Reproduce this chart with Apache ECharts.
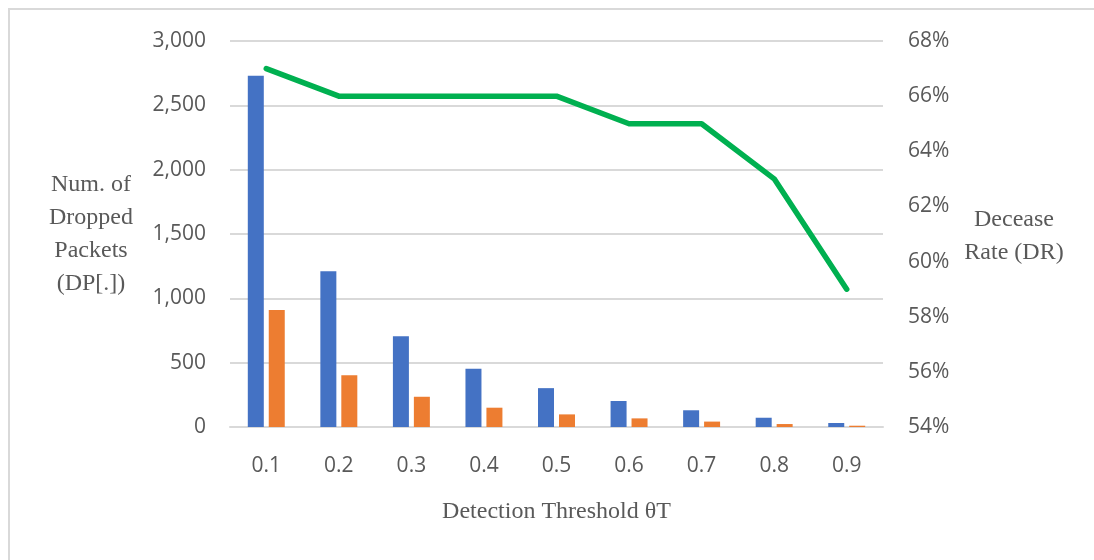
<!DOCTYPE html>
<html>
<head>
<meta charset="utf-8">
<script src="https://cdn.jsdelivr.net/npm/echarts@6/dist/echarts.min.js"></script>
<style>
  html, body { margin: 0; padding: 0; background: #fff; }
  #chart { width: 1094px; height: 560px; }
</style>
</head>
<body>
<div id="chart"></div>
<script>
// Detection threshold values along the x axis
const thresholds = ['0.1', '0.2', '0.3', '0.4', '0.5', '0.6', '0.7', '0.8', '0.9'];
// Dropped packets, two series (left axis)
const droppedA = [2730, 1210, 705, 452, 302, 202, 130, 72, 31];
const droppedB = [910, 403, 235, 150, 98, 67, 42, 23, 10];
// Decease rate in percent (right axis)
const deceaseRate = [67, 66, 66, 66, 66, 65, 65, 63, 59];

const leftTitle = ['Num. of', 'Dropped', 'Packets', '(DP[.])'];
const rightTitle = ['Decease', 'Rate (DR)'];
const xTitle = 'Detection Threshold \u03b8T';

const tickFont = { fontFamily: '"Open Sans", sans-serif', fontSize: 21, color: '#595959' };
const titleFont = { fontFamily: '"Liberation Serif", serif', fontSize: 24, color: '#595959' };

const chart = echarts.init(document.getElementById('chart'), null, { renderer: 'canvas' });

chart.setOption({
  animation: false,
  backgroundColor: '#fff',
  grid: { left: 230, right: 211, top: 41, bottom: 133 },
  xAxis: {
    type: 'category',
    data: thresholds,
    axisTick: { show: false },
    axisLine: { show: true, lineStyle: { color: '#d9d9d9', width: 2 } },
    axisLabel: Object.assign({ margin: 29 }, tickFont),
    name: xTitle,
    nameLocation: 'middle',
    nameGap: 73,
    nameTextStyle: titleFont
  },
  yAxis: [
    {
      type: 'value',
      min: 0, max: 3000, interval: 500,
      axisLine: { show: false },
      axisTick: { show: false },
      splitLine: { lineStyle: { color: '#d9d9d9', width: 2 } },
      axisLabel: Object.assign({
        margin: 24,
        formatter: v => v.toLocaleString('en-US')
      }, tickFont)
    },
    {
      type: 'value',
      min: 54, max: 68, interval: 2,
      axisLine: { show: false },
      axisTick: { show: false },
      splitLine: { show: false },
      axisLabel: Object.assign({
        margin: 25,
        formatter: v => v + '%'
      }, tickFont)
    }
  ],
  series: [
    {
      type: 'bar',
      data: droppedA,
      barWidth: 16,
      barGap: '31%',
      itemStyle: { color: '#4472C4' }
    },
    {
      type: 'bar',
      data: droppedB,
      barWidth: 16,
      itemStyle: { color: '#ED7D31' }
    },
    {
      type: 'line',
      yAxisIndex: 1,
      data: deceaseRate,
      symbol: 'none',
      lineStyle: { color: '#00B050', width: 5.5, cap: 'round', join: 'round' },
      z: 5
    }
  ],
  graphic: [
    {
      type: 'polyline',
      shape: { points: [[9, 560], [9, 9], [1094, 9]] },
      style: { stroke: '#d9d9d9', lineWidth: 2, fill: null }
    },
    {
      type: 'text',
      x: 91, y: 234,
      style: {
        text: leftTitle.join('\n'),
        textAlign: 'center',
        textVerticalAlign: 'middle',
        lineHeight: 33,
        fill: titleFont.color,
        font: '24px "Liberation Serif", serif'
      }
    },
    {
      type: 'text',
      x: 1014, y: 236,
      style: {
        text: rightTitle.join('\n'),
        textAlign: 'center',
        textVerticalAlign: 'middle',
        lineHeight: 33,
        fill: titleFont.color,
        font: '24px "Liberation Serif", serif'
      }
    }
  ]
});
</script>
</body>
</html>
